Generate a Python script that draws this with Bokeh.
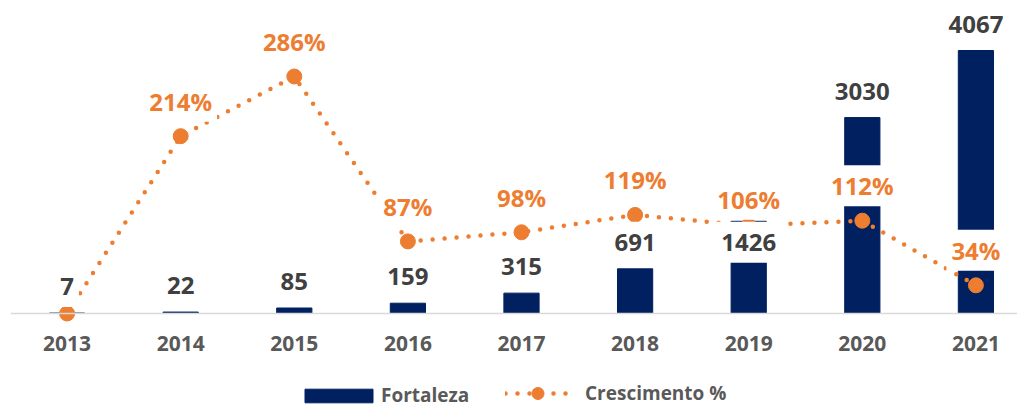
from bokeh.plotting import figure
from bokeh.models import ColumnDataSource, Range1d, FixedTicker, Span, Legend, LegendItem
from bokeh.core.properties import value
from bokeh.embed import file_html
from bokeh.resources import INLINE

# ---------------- data ----------------
years = [2013, 2014, 2015, 2016, 2017, 2018, 2019, 2020, 2021]
fortaleza = [7, 22, 85, 159, 315, 691, 1426, 3030, 4067]
crescimento = [0, 214, 286, 87, 98, 119, 106, 112, 34]
crescimento_labels = ["", "214%", "286%", "87%", "98%", "119%", "106%", "112%", "34%"]
fortaleza_labels = [str(v) for v in fortaleza]
tick_labels = [str(y) for y in years]

# ---------------- style / layout ----------------
NAVY = "#002060"
ORANGE = "#ED7D31"
LABEL_GREY = "#404040"
AXIS_GREY = "#595959"
FONT = "Open Sans"

W, H = 1017, 408
BAR_RANGE = (-1469.1, 4840.2)
PCT_RANGE = (-114.64, 377.7)
X_RANGE = (2012.502, 2021.366)
AXIS_Y = -262.9          # where the category labels hang (bar-axis units)

# label placement (screen px; negative = up)
bar_label_offset = [-26.5] * len(years)
bar_label_anchor = list(fortaleza)
# in the original the 2019 label sits level with the 2018 one
bar_label_anchor[years.index(2019)] = fortaleza[years.index(2018)]
pct_label_offset = [-35] * len(years)
pct_label_offset[years.index(2019)] = -26.5

p = figure(width=W, height=H, output_backend="svg", toolbar_location=None,
           x_range=Range1d(*X_RANGE), y_range=Range1d(*BAR_RANGE),
           y_axis_location=None, x_axis_location="below",
           min_border_left=10, min_border_right=0, min_border_top=0, min_border_bottom=0,
           outline_line_color=None, background_fill_color="white", border_fill_color="white")
p.extra_y_ranges = {"pct": Range1d(*PCT_RANGE)}
p.xgrid.visible = False
p.ygrid.visible = False

ax = p.xaxis[0]
ax.fixed_location = AXIS_Y
ax.ticker = FixedTicker(ticks=years)
ax.major_label_overrides = {y: s for y, s in zip(years, tick_labels)}
ax.axis_line_color = None
ax.major_tick_line_color = None
ax.minor_tick_line_color = None
ax.major_tick_out = 0
ax.major_tick_in = 0
ax.major_label_standoff = 6
ax.major_label_text_font = FONT
ax.major_label_text_font_style = "bold"
ax.major_label_text_font_size = "21px"
ax.major_label_text_color = AXIS_GREY

p.add_layout(Span(location=0, dimension="width", line_color="#D9D9D9", line_width=1.5))

bar_src = ColumnDataSource(dict(x=years, top=fortaleza, ly=bar_label_anchor,
                                off=bar_label_offset, txt=fortaleza_labels))
pct_src = ColumnDataSource(dict(x=years, y=crescimento))
keep = [i for i, t in enumerate(crescimento_labels) if t]
pct_lbl_src = ColumnDataSource(dict(x=[years[i] for i in keep],
                                    y=[crescimento[i] for i in keep],
                                    off=[pct_label_offset[i] for i in keep],
                                    txt=[crescimento_labels[i] for i in keep]))

bars = p.vbar(x="x", top="top", width=0.31, source=bar_src, fill_color=NAVY, line_color=NAVY)

line_r = p.line(x="x", y="y", source=pct_src, y_range_name="pct", line_color=ORANGE,
                line_width=4.5, line_dash="0 12", line_cap="round")
dots_r = p.scatter(x="x", y="y", source=pct_src, y_range_name="pct", size=15,
                   fill_color=ORANGE, line_color=ORANGE)

p.text(x="x", y="ly", text="txt", source=bar_src, y_offset="off",
       text_align="center", text_baseline="middle",
       text_font=value(FONT), text_font_style="bold", text_font_size="24px",
       text_color=LABEL_GREY, background_fill_color="white",
       padding=dict(left=5, right=5, top=12, bottom=12))

p.text(x="x", y="y", text="txt", source=pct_lbl_src, y_range_name="pct", y_offset="off",
       text_align="center", text_baseline="middle",
       text_font=value(FONT), text_font_style="bold", text_font_size="24px",
       text_color=ORANGE, background_fill_color="white", padding=dict(left=5, right=5, top=4, bottom=4))

common = dict(border_line_color=None, background_fill_alpha=0, padding=0, margin=0,
              spacing=0, label_text_font=FONT, label_text_font_style="bold",
              label_text_font_size="19px", label_text_color=AXIS_GREY,
              orientation="horizontal")
leg1 = Legend(items=[LegendItem(label="Fortaleza", renderers=[bars])],
              glyph_width=85, glyph_height=17, label_standoff=0,
              location=(286, 0), **common)
leg2 = Legend(items=[LegendItem(label="Crescimento %", renderers=[line_r, dots_r])],
              glyph_width=65, glyph_height=30, label_standoff=15,
              location=(495, 0), **common)
p.add_layout(leg1)
p.add_layout(leg2)

open("out.html", "w").write(file_html(p, INLINE))
